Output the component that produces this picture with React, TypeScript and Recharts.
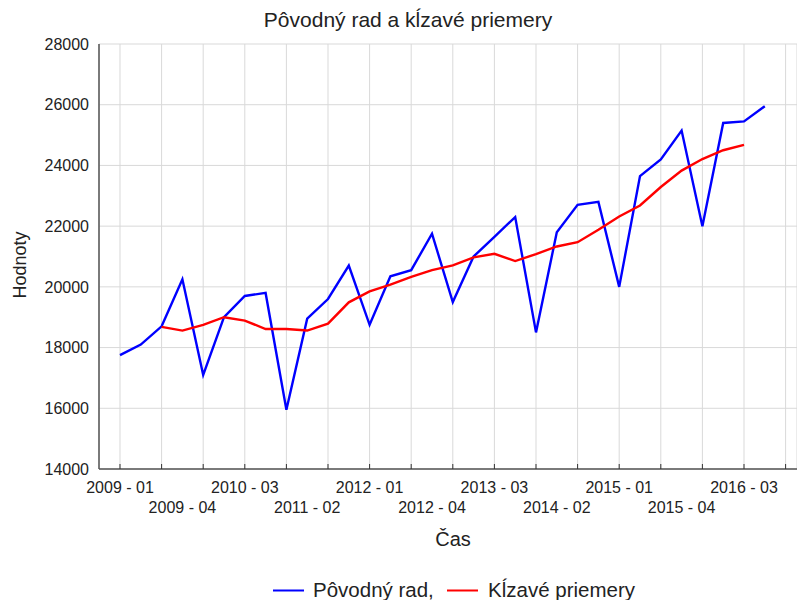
import React from 'react';
import { LineChart, Line, XAxis, YAxis, CartesianGrid, Legend } from 'recharts';

if (typeof document !== 'undefined') {
  document.body.style.margin = '0';
}

const FONT = "'Liberation Sans', Arial, sans-serif";

const periods = [
  '2009 - 01', '2009 - 02', '2009 - 03', '2009 - 04',
  '2010 - 01', '2010 - 02', '2010 - 03', '2010 - 04',
  '2011 - 01', '2011 - 02', '2011 - 03', '2011 - 04',
  '2012 - 01', '2012 - 02', '2012 - 03', '2012 - 04',
  '2013 - 01', '2013 - 02', '2013 - 03', '2013 - 04',
  '2014 - 01', '2014 - 02', '2014 - 03', '2014 - 04',
  '2015 - 01', '2015 - 02', '2015 - 03', '2015 - 04',
  '2016 - 01', '2016 - 02', '2016 - 03', '2016 - 04',
];

const original = [
  17750, 18100, 18700, 20250, 17100, 19000, 19700, 19800,
  15950, 18950, 19600, 20700, 18750, 20350, 20550, 21750,
  19500, 21000, 21650, 22300, 18500, 21800, 22700, 22800,
  20000, 23650, 24200, 25150, 22000, 25400, 25450, 25950,
];

const movingAvg: (number | null)[] = [
  null, null, 18680, 18560, 18750, 19000, 18890, 18610,
  18610, 18560, 18790, 19490, 19850, 20070, 20330, 20550,
  20710, 20970, 21090, 20850, 21080, 21330, 21470, 21880,
  22320, 22680, 23290, 23830, 24210, 24500, 24680, null,
];

const yTicks = [14000, 16000, 18000, 20000, 22000, 24000, 26000, 28000];
const xTicks = Array.from({ length: 33 }, (_, i) => i);
const gridTicks = xTicks.filter((i) => i % 2 === 0);

const data = periods.map((p, i) => ({ i, label: p, orig: original[i], ma: movingAvg[i] }));

const BottomTick = (props: any) => {
  const { x, y, payload } = props;
  const i = payload.value as number;
  const showLabel = i % 3 === 0 && periods[i] !== undefined;
  const row = (i / 3) % 2 === 0 ? 0 : 1;
  return (
    <g>
      {i % 2 === 0 && <line x1={x} x2={x} y1={y} y2={y - 5} stroke="#333" strokeWidth={1} />}
      {showLabel && (
        <text x={x} y={y + (row === 0 ? 24 : 44)} textAnchor="middle" fontSize={16} fontFamily={FONT} fill="#222">
          {periods[i]}
        </text>
      )}
    </g>
  );
};

const TopTick = (props: any) => {
  const { x, y } = props;
  return <line x1={x} x2={x} y1={y} y2={y + 5} stroke="#333" strokeWidth={1} />;
};

const LegendContent = () => (
  <svg width={797} height={26} style={{ display: 'block' }}>
    <line x1={273} x2={304} y1={12.5} y2={12.5} stroke="#0000ff" strokeWidth={2} />
    <text x={313} y={18.5} fontSize={20.5} fontFamily={FONT} fill="#222">Pôvodný rad,</text>
    <line x1={447} x2={478} y1={12.5} y2={12.5} stroke="#ff0000" strokeWidth={2} />
    <text x={488} y={18.5} fontSize={20.5} fontFamily={FONT} fill="#222">Kĺzavé priemery</text>
  </svg>
);

export default function App() {
  return (
    <div style={{ position: 'relative', width: 797, height: 600, background: '#fff' }}>
      <svg width={797} height={600} style={{ position: 'absolute', left: 0, top: 0, pointerEvents: 'none' }}>
        <text x={408} y={27} textAnchor="middle" fontSize={21} fontFamily={FONT} fill="#222">
          Pôvodný rad a kĺzavé priemery
        </text>
        <text x={453} y={546} textAnchor="middle" fontSize={20} fontFamily={FONT} fill="#222">
          Čas
        </text>
        <text
          x={26}
          y={265}
          textAnchor="middle"
          fontSize={18}
          fontFamily={FONT}
          fill="#222"
          transform="rotate(-90 26 265)"
        >
          Hodnoty
        </text>
      </svg>
      <div style={{ position: 'absolute', left: 0, top: 0 }}>
        <LineChart width={797} height={600} data={data} margin={{ top: 44, right: 0, left: 0, bottom: 91 }}>
          <CartesianGrid xAxisId="top" stroke="#d9d9d9" strokeWidth={1} />
          <XAxis
            dataKey="i"
            type="number"
            domain={[-1.0096, 32.548]}
            ticks={xTicks}
            interval={0}
            tick={<BottomTick />}
            tickLine={false}
            tickSize={0}
            tickMargin={0}
            height={40}
            axisLine={{ stroke: '#555', strokeWidth: 1.5 }}
            allowDataOverflow
          />
          <XAxis
            xAxisId="top"
            orientation="top"
            dataKey="i"
            type="number"
            domain={[-1.0096, 32.548]}
            ticks={gridTicks}
            interval={0}
            tick={<TopTick />}
            tickLine={false}
            tickSize={0}
            tickMargin={0}
            height={0}
            axisLine={{ stroke: '#555', strokeWidth: 1.5 }}
            allowDataOverflow
          />
          <YAxis
            type="number"
            domain={[14000, 28000]}
            ticks={yTicks}
            interval={0}
            width={99}
            tickLine={false}
            tickSize={0}
            tickMargin={10}
            tick={{ fontSize: 16, fontFamily: FONT, fill: '#222' }}
            axisLine={{ stroke: '#555', strokeWidth: 1.5 }}
          />
          <Legend
            layout="horizontal"
            verticalAlign="middle"
            align="center"
            content={<LegendContent />}
            wrapperStyle={{ top: 578, left: 0, width: 797 }}
          />
          <Line
            type="linear"
            dataKey="orig"
            name="Pôvodný rad,"
            stroke="#0000ff"
            strokeWidth={2.4}
            dot={false}
            isAnimationActive={false}
          />
          <Line
            type="linear"
            dataKey="ma"
            name="Kĺzavé priemery"
            stroke="#ff0000"
            strokeWidth={2.4}
            dot={false}
            isAnimationActive={false}
          />
        </LineChart>
      </div>
    </div>
  );
}
